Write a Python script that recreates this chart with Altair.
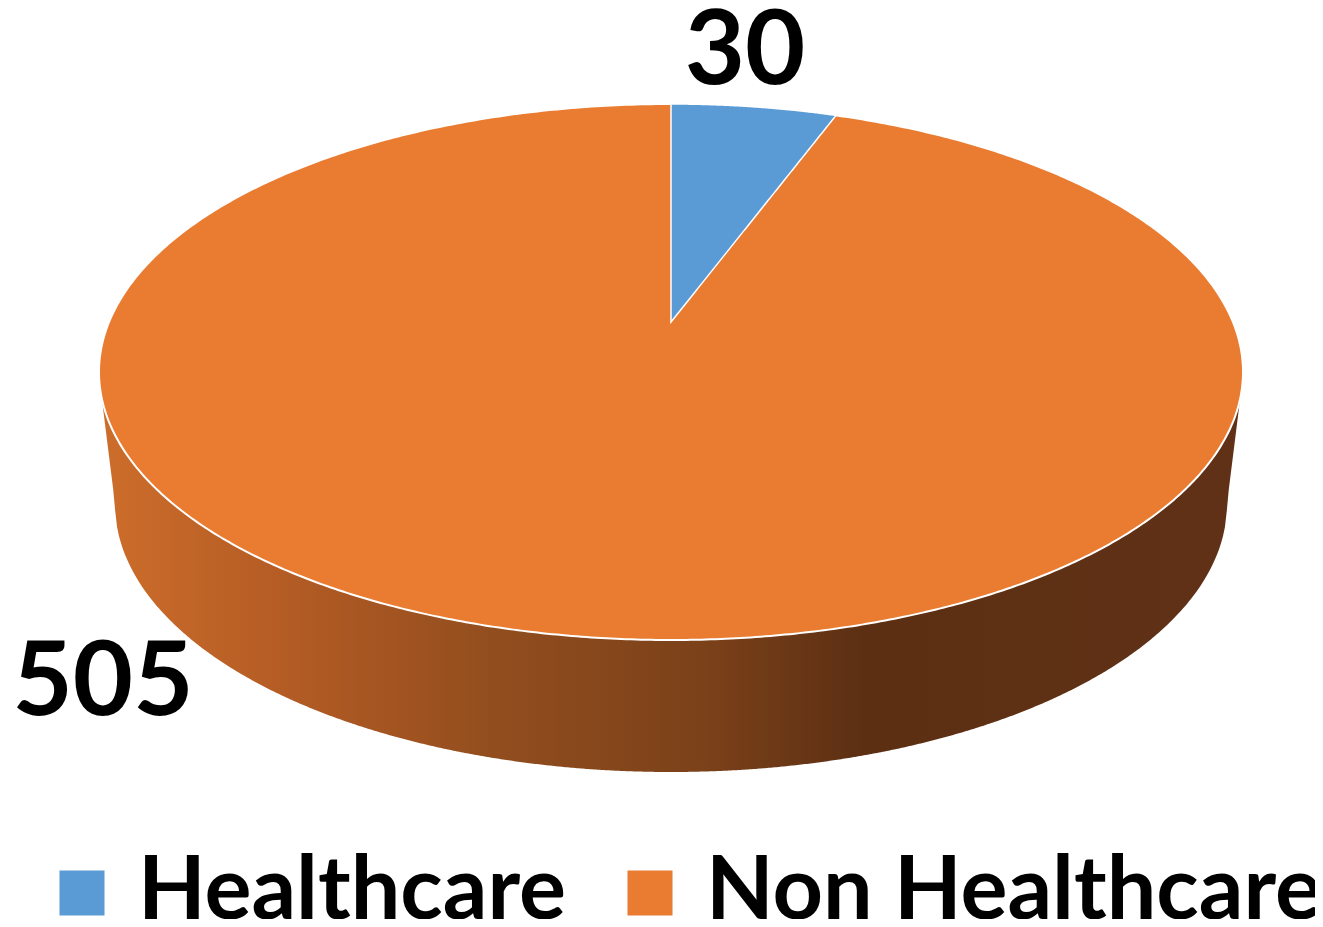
import numpy as np
import pandas as pd
import altair as alt

# ---- data ----
categories = ["Healthcare", "Non Healthcare"]
values = [30, 505]
label_texts = ["30", "505"]

# ---- styles / layout ----
colors = ["#5B9BD5", "#E97C31"]
W, H = 1307, 911
CX, CY, RX, RY = 663, 364, 572, 268          # top face ellipse
APEX_Y = 314                                  # projected pie centre (perspective)
BCY, BRX, BRY = 496, 556, 268                 # bottom face ellipse
WALL = 0.995                                  # where the side walls meet the top face
label_pos = [(737, 45), (95, 676)]
FONT = "Lato"

# perspective model of the top face (circle -> ellipse, centre -> apex)
T, B = CY - RY, CY + RY
c = (2 * APEX_Y - T - B) / (T - B)
a = T * (1 + c) - APEX_Y
K = RX * np.sqrt(1 - c * c)


def proj(theta):
    d = 1 + c * np.cos(theta)
    return CX + K * np.sin(theta) / d, (a * np.cos(theta) + APEX_Y) / d


# top face
phi = np.linspace(0, np.pi, 361)
top_df = pd.DataFrame({
    "x": CX + RX * np.cos(phi),
    "y": CY - RY * np.sin(phi),
    "y2": CY + RY * np.sin(phi),
    "category": categories[1],
})

# Healthcare wedge (angle from the data)
frac = values[0] / sum(values)
th = np.linspace(0, 2 * np.pi * frac, 120)
wx, wy = proj(th)
x1, y1 = wx[-1], wy[-1]
wedge_df = pd.DataFrame({
    "x": wx,
    "y": wy,
    "y2": APEX_Y + (y1 - APEX_Y) * (wx - CX) / (x1 - CX + 1e-9),
    "category": categories[0],
})

# side (front wall)
xs = np.linspace(CX - WALL * RX, CX + WALL * RX, 600)
u = (xs - CX) / RX
ytop = CY + RY * np.sqrt(np.clip(1 - u ** 2, 0, None))
yw0 = CY + RY * np.sqrt(1 - WALL ** 2)
ub = np.clip((xs - CX) / BRX, -1, 1)
ybot = BCY + BRY * np.sqrt(np.clip(1 - ub ** 2, 0, None))
outer = np.abs(xs - CX) > BRX
t = (WALL * RX - np.abs(xs - CX)) / (WALL * RX - BRX)
ybot = np.where(outer, yw0 + (BCY - yw0) * t, ybot)
side_df = pd.DataFrame({"x": xs, "y": ytop, "y2": ybot})

lab_df = pd.DataFrame({
    "x": [p[0] for p in label_pos],
    "y": [p[1] for p in label_pos],
    "text": label_texts,
})

xs_scale = alt.Scale(domain=[0, W], nice=False, zero=False)
ys_scale = alt.Scale(domain=[0, H], nice=False, zero=False, reverse=True)
X = alt.X("x:Q", scale=xs_scale, axis=None)
Y = alt.Y("y:Q", scale=ys_scale, axis=None)

grad = alt.Gradient(
    gradient="linear", x1=0, x2=1, y1=0, y2=0,
    stops=[
        alt.GradientStop(offset=0.0, color="#CD6D2B"),
        alt.GradientStop(offset=0.17, color="#B25B24"),
        alt.GradientStop(offset=0.35, color="#914D1E"),
        alt.GradientStop(offset=0.53, color="#7B4119"),
        alt.GradientStop(offset=0.67, color="#5C2F13"),
        alt.GradientStop(offset=1.0, color="#603116"),
    ],
)

side = alt.Chart(side_df).mark_area(color=grad, orient="vertical").encode(
    x=X, y=Y, y2="y2:Q"
)

color_enc = alt.Color(
    "category:N",
    scale=alt.Scale(domain=categories, range=colors),
    legend=alt.Legend(
        title=None, orient="none", direction="horizontal",
        legendX=30, legendY=841,
        symbolType="square", symbolSize=2025, symbolStrokeWidth=0,
        symbolOpacity=1,
        labelFont=FONT, labelFontWeight="bold", labelFontSize=88,
        labelColor="black", labelOffset=12, labelLimit=2000,
        columnPadding=40,
    ),
)

top = alt.Chart(top_df).mark_area(
    orient="vertical", stroke="white", strokeWidth=2, opacity=1
).encode(x=X, y=Y, y2="y2:Q", color=color_enc)

wedge = alt.Chart(wedge_df).mark_area(
    orient="vertical", stroke="white", strokeWidth=1.5, opacity=1
).encode(x=X, y=Y, y2="y2:Q", color=color_enc)

labels = alt.Chart(lab_df).mark_text(
    font=FONT, fontWeight="bold", fontSize=104, color="black",
    align="center", baseline="middle",
).encode(x=X, y=Y, text="text:N")

chart = alt.layer(side, top, wedge, labels).properties(
    width=W, height=H, padding=0,
    autosize=alt.AutoSizeParams(type="none"),
).configure_view(strokeWidth=0)

chart.save("out.html", embed_options={"renderer": "svg", "actions": False})
